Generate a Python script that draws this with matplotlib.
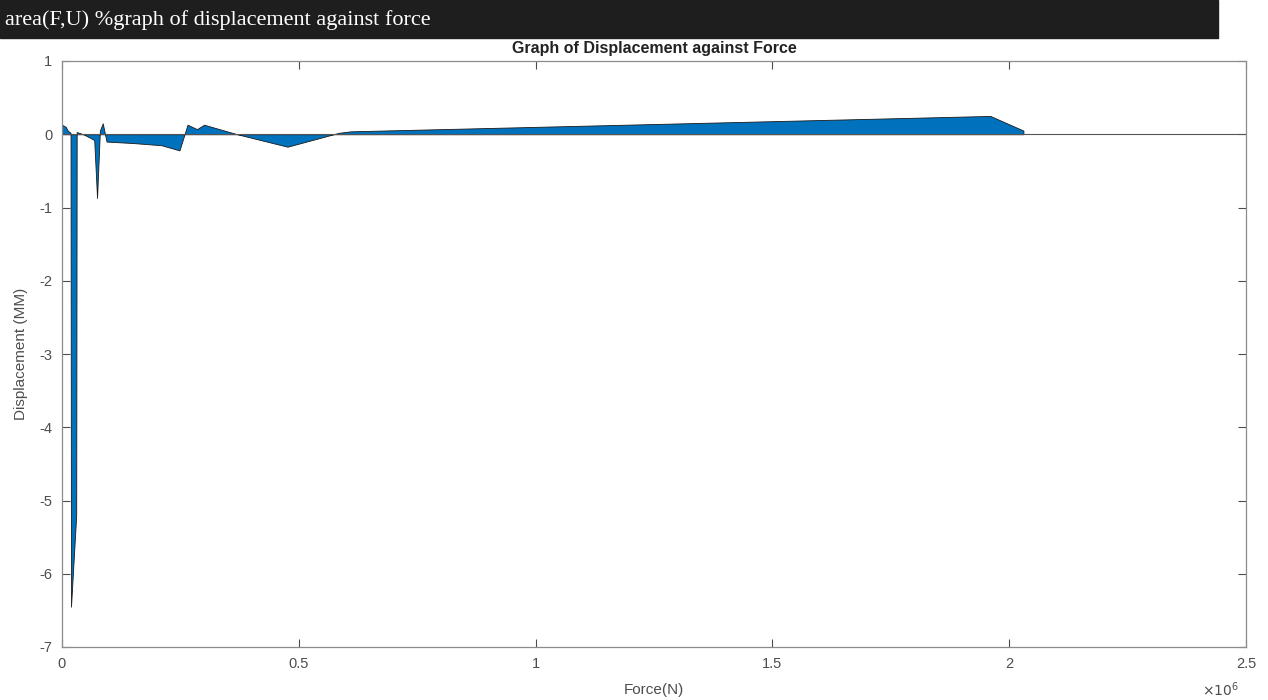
import numpy as np
import matplotlib.pyplot as plt
from matplotlib.ticker import FuncFormatter
from matplotlib.patches import Rectangle

# Force (N) and displacement (mm)
F = np.array([0.000, 0.008, 0.012, 0.018, 0.019, 0.030, 0.031, 0.045, 0.060,
              0.068, 0.074, 0.080, 0.086, 0.094, 0.150, 0.210, 0.248, 0.265,
              0.285, 0.300, 0.370, 0.476, 0.585, 0.610, 1.960, 2.030]) * 1e6
U = np.array([0.13, 0.10, 0.05, 0.02, -6.45, -5.2, 0.03, 0.0, -0.05,
              -0.08, -0.87, 0.05, 0.15, -0.10, -0.12, -0.15, -0.22, 0.13,
              0.07, 0.13, 0.0, -0.17, 0.02, 0.04, 0.25, 0.05])

xticks = [0, 0.5e6, 1e6, 1.5e6, 2e6, 2.5e6]
yticks = [-7, -6, -5, -4, -3, -2, -1, 0, 1]

plt.rcParams['font.family'] = ['Liberation Sans', 'DejaVu Sans']
plt.rcParams['axes.unicode_minus'] = False

W, H = 1268, 700
fig = plt.figure(figsize=(W / 100, H / 100), dpi=100)
ax = fig.add_axes([62 / W, 1 - 647 / H, (1246 - 62) / W, (647 - 61) / H])

grey = '#4d4d4d'
ax.fill_between(F, U, 0, facecolor='#0072BD', edgecolor='#1a1a1a', linewidth=0.6)
ax.axhline(0, color='#555555', linewidth=0.8)

ax.set_xlim(0, 2.5e6)
ax.set_ylim(-7, 1)
ax.set_xticks(xticks)
ax.set_yticks(yticks)
ax.xaxis.set_major_formatter(FuncFormatter(lambda v, p: '%g' % (v / 1e6)))
ax.tick_params(direction='in', length=6, width=0.8, colors=grey,
               labelsize=10.5, top=True, right=True)
ax.tick_params(axis='y', pad=7)
ax.tick_params(axis='x', pad=7)
for s in ax.spines.values():
    s.set_color('#8c8c8c')
    s.set_linewidth(0.9)

ax.set_title('Graph of Displacement against Force', fontsize=11.5,
             fontweight='bold', color='#222222', pad=6)
ax.set_ylabel('Displacement (MM)', fontsize=11, color=grey, labelpad=8)
fig.text(654 / W, 1 - 690 / H, 'Force(N)', ha='center', va='center',
         fontsize=11, color=grey)
fig.text(1202 / W, 1 - 690 / H, r'$\times10^{6}$', ha='left', va='center',
         fontsize=10, color=grey)

# dark header bar with the MATLAB command
fig.patches.append(Rectangle((0, 1 - 38 / H), 1218 / W, 38 / H,
                             transform=fig.transFigure, color='#1e1e1e', zorder=5))
fig.text(5 / W, 1 - 20 / H, 'area(F,U) %graph of displacement against force',
         ha='left', va='center', fontsize=16, color='white',
         family=['Liberation Serif', 'DejaVu Serif'], zorder=6)

fig.savefig('out.png', dpi=100)
